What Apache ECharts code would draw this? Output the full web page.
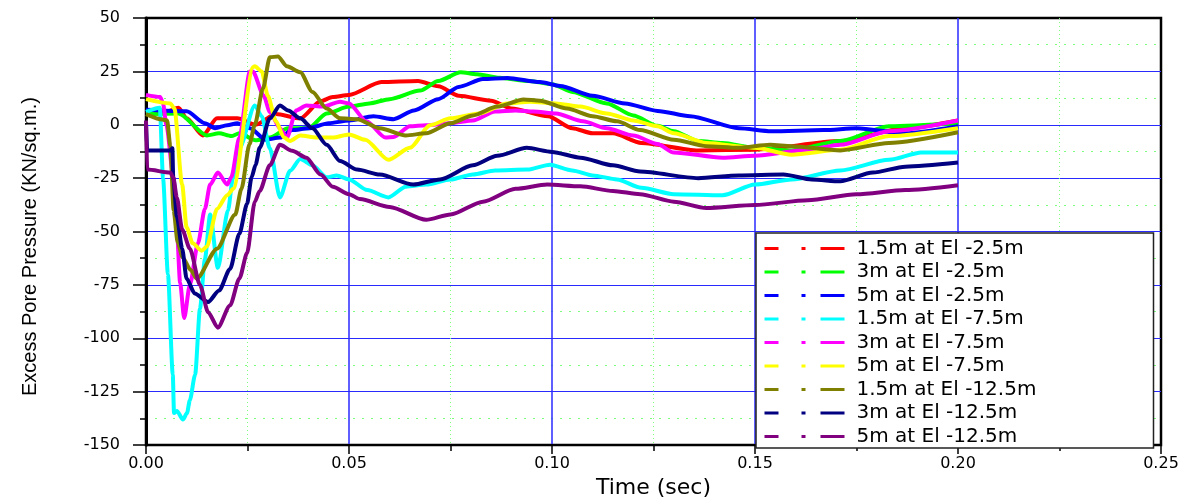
<!DOCTYPE html>
<html>
<head>
<meta charset="utf-8">
<title>Excess Pore Pressure</title>
<script src="https://cdn.jsdelivr.net/npm/echarts@6/dist/echarts.min.js"></script>
<style>
  html, body { margin: 0; padding: 0; background: #fff; }
  #chart { width: 1195px; height: 504px; }
</style>
</head>
<body>
<div id="chart"></div>
<script>
// legend names, same order as the curves below
const seriesNames = [
  "1.5m at El -2.5m", "3m at El -2.5m", "5m at El -2.5m",
  "1.5m at El -7.5m", "3m at El -7.5m", "5m at El -7.5m",
  "1.5m at El -12.5m", "3m at El -12.5m", "5m at El -12.5m",
];
const seriesColors = ["#ff0000", "#00ff00", "#0000ff", "#00ffff", "#ff00ff", "#ffff00", "#808000", "#000080", "#800080"];

// [time (sec), excess pore pressure (KN/sq.m.)]
const p15El25 = [
  [0, 5], [0.005, 6], [0.008, 8], [0.01, 3], [0.014, -5], [0.0175, 3], [0.0225, 3], [0.027, 0],
  [0.032, 5], [0.038, 3], [0.043, 11], [0.046, 13], [0.05, 14], [0.058, 20], [0.067, 20.5],
  [0.072, 18], [0.077, 13.6], [0.085, 11.3], [0.09, 7.6], [0.099, 4], [0.105, -1.6], [0.11, -4],
  [0.115, -4], [0.122, -8.5], [0.136, -12], [0.15, -11.7], [0.171, -7.6], [0.187, -1.6], [0.2, 2],
];
const p3El25 = [
  [0, 5], [0.008, 5.3], [0.015, -5], [0.018, -4], [0.021, -5.3], [0.023, -4], [0.027, -7.3],
  [0.0305, -6], [0.035, -1.6], [0.04, -1.6], [0.0445, 5.3], [0.05, 8.5], [0.055, 10], [0.06, 12],
  [0.0675, 16], [0.072, 20.5], [0.0775, 24.6], [0.0815, 23.7], [0.087, 22], [0.0945, 20.5],
  [0.1, 19], [0.105, 15.4], [0.1135, 10], [0.12, 4.4], [0.126, -0.5], [0.13, -3], [0.136, -7.6],
  [0.142, -8.5], [0.15, -10.8], [0.159, -12], [0.171, -7.6], [0.183, -0.7], [0.2, 0.7],
];
const p5El25 = [
  [0, 7], [0.01, 6.3], [0.0145, 0.7], [0.017, -1.6], [0.02, -0.2], [0.0225, 0.7], [0.0256, -1.6],
  [0.0295, -7], [0.033, -6], [0.036, -2.5], [0.04, -1.6], [0.045, 0.7], [0.05, 2], [0.056, 4],
  [0.061, 2.6], [0.066, 6.7], [0.072, 12], [0.077, 17.7], [0.083, 21.4], [0.089, 21.9], [0.097, 20],
  [0.102, 18.2], [0.11, 13.6], [0.118, 10], [0.126, 6.5], [0.134, 4], [0.146, -1.6], [0.154, -3],
  [0.167, -2.5], [0.175, -1.6], [0.187, -4], [0.2, -0.7],
];
const p15El75 = [
  [0, 6], [0.0034, 8], [0.0042, -25], [0.0054, -70], [0.0066, -117], [0.0069, -135], [0.0076, -134],
  [0.0091, -138], [0.0101, -135], [0.0108, -129], [0.0121, -117], [0.0133, -86], [0.0145, -63],
  [0.0158, -42], [0.0177, -67], [0.0202, -40], [0.0214, -25], [0.023, -11], [0.0268, 9], [0.0285, 4],
  [0.0305, -11], [0.033, -34], [0.0355, -21.5], [0.038, -16], [0.041, -19], [0.0445, -24.6],
  [0.047, -23.7], [0.05, -25.6], [0.0545, -30.6], [0.0597, -34], [0.064, -29], [0.069, -28],
  [0.075, -25.6], [0.0805, -23.3], [0.086, -21.4], [0.094, -21], [0.0995, -18.7], [0.105, -21.4],
  [0.11, -23.7], [0.116, -25.6], [0.122, -29.5], [0.13, -32.5], [0.142, -33], [0.15, -28],
  [0.159, -25.6], [0.171, -21.4], [0.183, -16.4], [0.191, -13], [0.2, -13],
];
const p3El75 = [
  [0, 14], [0.0035, 13], [0.0042, 10], [0.005, 0], [0.0068, -25], [0.0076, -49], [0.0084, -74],
  [0.0094, -90.5], [0.0108, -75], [0.0128, -55.5], [0.0145, -39.4], [0.0158, -28], [0.0177, -22.4],
  [0.02, -28], [0.021, -24.6], [0.023, -6], [0.0256, 25], [0.0263, 25], [0.029, 13.6], [0.0305, 6],
  [0.033, -1.6], [0.0347, -6], [0.037, 6.7], [0.0395, 9], [0.0436, 8.5], [0.0478, 10.8], [0.05, 10],
  [0.0543, 1.6], [0.059, -6], [0.061, -5.7], [0.065, -0.7], [0.069, -0.2], [0.075, 0.7], [0.0805, 2],
  [0.086, 6.2], [0.091, 6.7], [0.0954, 6.2], [0.101, 5.3], [0.1076, 1.6], [0.1135, -1.6], [0.12, -5],
  [0.126, -9], [0.13, -13], [0.142, -15.4], [0.15, -14.5], [0.163, -11.7], [0.171, -9.4],
  [0.183, -3], [0.2, 2],
];
const p5El75 = [
  [0, 12], [0.006, 10], [0.007, 7.6], [0.0089, -28], [0.01, -48], [0.0115, -55.5], [0.0137, -59],
  [0.015, -57], [0.0175, -39.4], [0.02, -33], [0.0215, -30], [0.0264, 27], [0.0268, 27.4],
  [0.0285, 25], [0.03, 13.6], [0.032, 1.6], [0.034, -6], [0.0355, -7.6], [0.038, -5], [0.042, -6],
  [0.046, -6], [0.05, -4.5], [0.054, -7], [0.0597, -16.4], [0.065, -10.8], [0.07, -0.2], [0.075, 3],
  [0.082, 5.3], [0.089, 10], [0.0946, 10.8], [0.101, 10], [0.107, 8.5], [0.1135, 5.3], [0.12, 2],
  [0.126, -0.7], [0.13, -4], [0.138, -8.5], [0.15, -10.8], [0.159, -14], [0.171, -11.7],
  [0.183, -5.3], [0.2, -1.6],
];
const p15El125 = [
  [0, 5], [0.004, 2.5], [0.0052, 2], [0.006, -10], [0.0068, -40], [0.0078, -55], [0.009, -62],
  [0.011, -68], [0.0125, -72], [0.0175, -58], [0.022, -42], [0.0235, -30], [0.0255, -9], [0.0268, 0],
  [0.0288, 17], [0.0305, 31.6], [0.0325, 32], [0.0347, 27.4], [0.038, 24.6], [0.041, 15.4],
  [0.0445, 7.6], [0.0478, 3], [0.052, 2.6], [0.0576, -1.6], [0.064, -5], [0.069, -4], [0.075, 0.7],
  [0.0805, 4.4], [0.0865, 8.5], [0.093, 11.8], [0.097, 11.3], [0.1037, 7.6], [0.11, 4], [0.116, 1.6],
  [0.1217, -2.5], [0.13, -7], [0.138, -10], [0.146, -10.8], [0.1537, -9.4], [0.159, -10],
  [0.171, -12], [0.183, -8.5], [0.2, -3.5],
];
const p3El125 = [
  [0, 1], [0.0003, -12], [0.006, -12], [0.0065, -11], [0.0067, -24.6], [0.0076, -43], [0.0089, -58],
  [0.01, -72], [0.012, -79], [0.0153, -83], [0.018, -77.6], [0.0207, -67.5], [0.023, -51],
  [0.0249, -37], [0.026, -24.6], [0.027, -18.7], [0.028, -10.8], [0.0305, 3], [0.033, 9], [0.035, 6.7],
  [0.038, 3], [0.041, -1.6], [0.0445, -9.4], [0.0478, -17], [0.052, -21], [0.0576, -23.3],
  [0.0658, -28], [0.0724, -25.6], [0.0805, -19], [0.0865, -14.5], [0.0938, -10.8], [0.1, -12.7],
  [0.107, -15.4], [0.115, -19], [0.1217, -21.9], [0.136, -25], [0.146, -23.7], [0.157, -23.3],
  [0.164, -25.6], [0.171, -26.5], [0.179, -22.4], [0.187, -19.6], [0.2, -17.7],
];
const p5El125 = [
  [0, 2], [0.0003, -21], [0.006, -22.4], [0.0067, -24.6], [0.0076, -34], [0.0089, -49], [0.0108, -58],
  [0.0133, -75], [0.0153, -87.8], [0.0177, -95], [0.0207, -84.6], [0.023, -72], [0.0249, -60],
  [0.0268, -36], [0.028, -31], [0.0305, -19], [0.033, -9.4], [0.036, -12.2], [0.0395, -15.4],
  [0.043, -23.3], [0.046, -29], [0.05, -32.5], [0.0527, -34.8], [0.06, -38.5], [0.069, -44.5],
  [0.075, -42], [0.083, -36], [0.091, -30], [0.0988, -28], [0.107, -28.8], [0.115, -31],
  [0.1217, -32.5], [0.13, -36], [0.138, -39], [0.15, -37.6], [0.163, -35.3], [0.175, -32.5],
  [0.187, -30.6], [0.2, -28.3],
];
const seriesData = [p15El25, p3El25, p5El25, p15El75, p3El75, p5El75, p15El125, p3El125, p5El125];

const FONT = "'DejaVu Sans', 'Liberation Sans', sans-serif";
const NAME_FONT = "'Liberation Sans Narrow', 'Liberation Sans', Arial, sans-serif";
const MAJOR_GRID = "#2a2aff";
const MINOR_GRID = "#7dff7d";

const chart = echarts.init(document.getElementById("chart"));

chart.setOption({
  animation: false,
  backgroundColor: "#fff",
  grid: { left: 146, right: 34, top: 18, bottom: 52, show: true, borderColor: "#000", borderWidth: 2.5 },
  legend: {
    orient: "vertical",
    left: 756,
    top: 233,
    padding: [5, 7, 1, 7],
    itemWidth: 80,
    itemHeight: 12,
    itemGap: 2.5,
    backgroundColor: "#fff",
    borderColor: "#222",
    borderWidth: 1.5,
    itemStyle: { opacity: 0 },
    lineStyle: { type: [14, 23, 4, 15, 24], width: 3 },
    textStyle: { fontFamily: FONT, fontSize: 20, lineHeight: 21, color: "#000", width: 290, padding: [0, 0, 0, 7] },
    data: seriesNames,
  },
  xAxis: {
    type: "value",
    min: 0,
    max: 0.25,
    interval: 0.05,
    name: "Time (sec)",
    nameLocation: "middle",
    nameGap: 30,
    nameTextStyle: { fontFamily: FONT, fontSize: 22, color: "#000" },
    axisLine: { onZero: false, lineStyle: { color: "#000", width: 2 } },
    axisTick: { length: 9, lineStyle: { color: "#000", width: 1.5 } },
    minorTick: { show: true, splitNumber: 2, length: 6, lineStyle: { color: "#000", width: 1.5 } },
    axisLabel: { margin: 11, fontFamily: FONT, fontSize: 16, color: "#000", formatter: (v) => v.toFixed(2) },
    splitLine: { show: true, showMaxLine: false, lineStyle: { color: MAJOR_GRID, width: 1.5 } },
    minorSplitLine: { show: true, lineStyle: { color: MINOR_GRID, width: 1, type: [1, 3] } },
  },
  yAxis: {
    type: "value",
    min: -150,
    max: 50,
    interval: 25,
    name: "Excess Pore Pressure (KN/sq.m.)",
    nameLocation: "middle",
    nameGap: 106,
    nameTextStyle: { fontFamily: NAME_FONT, fontSize: 20, color: "#000", padding: [0, 30, 0, 0] },
    axisLine: { show: true, lineStyle: { color: "#000", width: 3 } },
    axisTick: { length: 13, lineStyle: { color: "#000", width: 1.5 } },
    minorTick: { show: true, splitNumber: 2, length: 6, lineStyle: { color: "#000", width: 1.5 } },
    axisLabel: { margin: 26, fontFamily: FONT, fontSize: 16, color: "#000" },
    splitLine: { show: true, showMaxLine: false, lineStyle: { color: MAJOR_GRID, width: 1 } },
    minorSplitLine: { show: true, lineStyle: { color: MINOR_GRID, width: 1, type: [2, 7] } },
  },
  series: seriesNames.map((name, i) => ({
    name,
    type: "line",
    data: seriesData[i],
    symbol: "none",
    smooth: 0.25,
    smoothMonotone: "x",
    color: seriesColors[i],
    lineStyle: { width: 4, color: seriesColors[i] },
  })),
});

window.addEventListener("resize", () => chart.resize());
</script>
</body>
</html>
